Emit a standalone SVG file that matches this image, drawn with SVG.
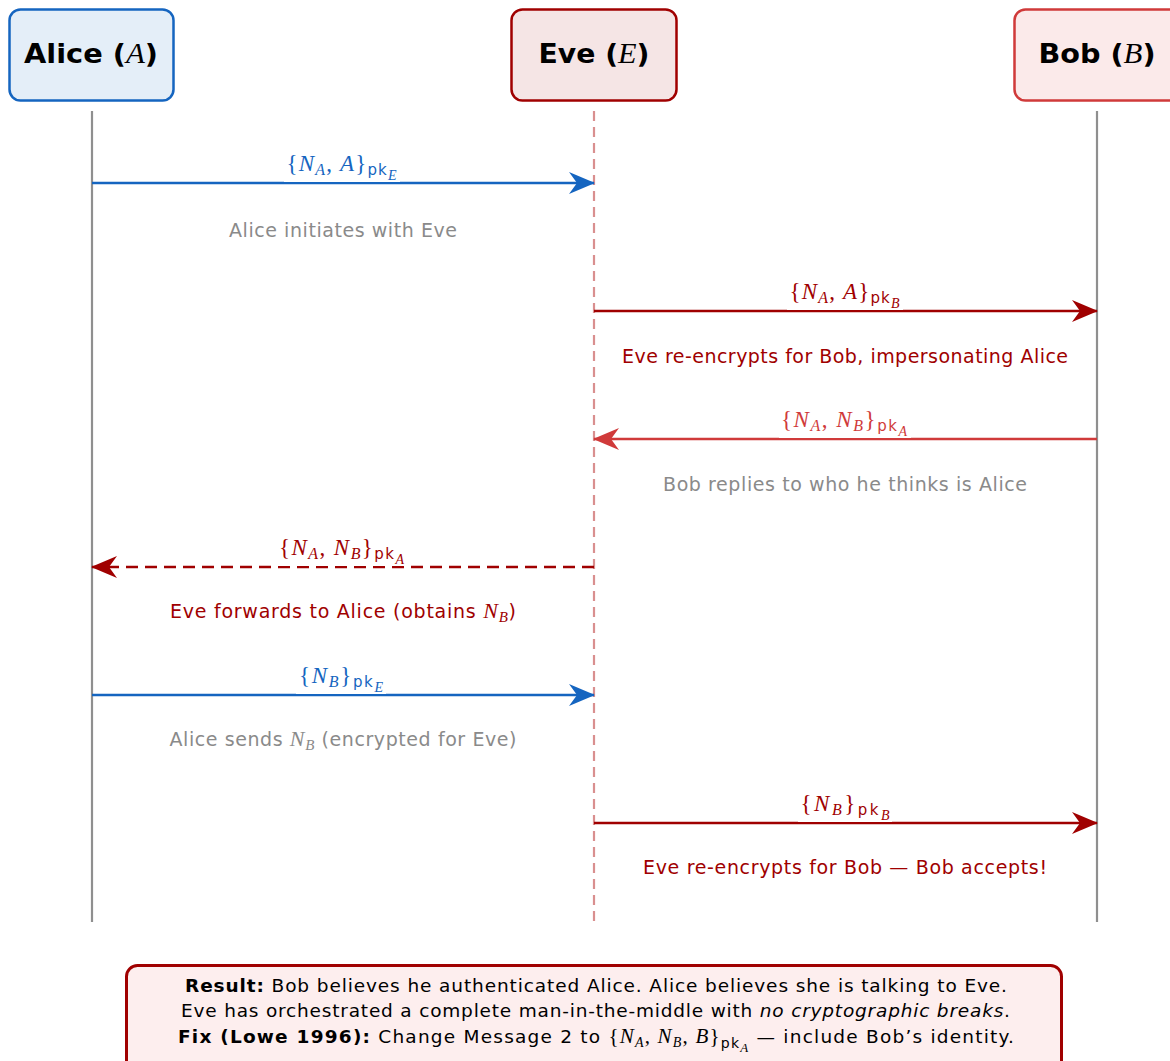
<svg xmlns="http://www.w3.org/2000/svg" width="1170" height="1061" viewBox="0 0 1170 1061">
  <style>
    .hdr { font-family: "DejaVu Sans", "Liberation Sans", sans-serif; font-weight: bold; font-size: 27px; fill: #000; text-anchor: middle; }
    .m { font-family: "Liberation Serif", "Times New Roman", serif; font-style: italic; font-weight: normal; }
    .rm { font-family: "Liberation Serif", "Times New Roman", serif; font-style: normal; font-weight: normal; }
    .sf { font-family: "DejaVu Sans", "Liberation Sans", sans-serif; font-style: normal; }
    .lbl { font-family: "Liberation Serif", "Times New Roman", serif; font-size: 23px; text-anchor: middle; }
    .note { font-family: "DejaVu Sans", "Liberation Sans", sans-serif; font-size: 19px; text-anchor: middle; }
    .gray { fill: #8a8a8a; }
    .dred { fill: #a00000; }
    .blue { fill: #1565c0; }
    .red { fill: #d03a3a; }
    .life { stroke: #8f8f8f; stroke-width: 2.2; fill: none; }
    .msg { stroke-width: 2.5; fill: none; }
    .bg { fill: #ffffff; }
    .box { font-family: "DejaVu Sans", "Liberation Sans", sans-serif; font-size: 18.5px; fill: #000; text-anchor: middle; }
  </style>
  <defs>
    <marker id="ah-blue" viewBox="0 0 26 22" refX="25" refY="11" markerWidth="26" markerHeight="22" markerUnits="userSpaceOnUse" orient="auto">
      <path d="M0,0 L26,11 L0,22 L8,11 Z" fill="#1565c0"/>
    </marker>
    <marker id="ah-dred" viewBox="0 0 26 22" refX="25" refY="11" markerWidth="26" markerHeight="22" markerUnits="userSpaceOnUse" orient="auto">
      <path d="M0,0 L26,11 L0,22 L8,11 Z" fill="#a00000"/>
    </marker>
    <marker id="ah-red" viewBox="0 0 26 22" refX="25" refY="11" markerWidth="26" markerHeight="22" markerUnits="userSpaceOnUse" orient="auto">
      <path d="M0,0 L26,11 L0,22 L8,11 Z" fill="#d03a3a"/>
    </marker>
  </defs>

  <rect width="1170" height="1061" fill="#ffffff"/>

  <!-- participants -->
  <g id="alice">
    <rect x="9.5" y="9.5" width="164" height="91" rx="11" fill="#e4eef8" stroke="#1565c0" stroke-width="2.5"/>
    <text class="hdr" x="91" y="63" textLength="134" lengthAdjust="spacingAndGlyphs">Alice (<tspan class="m" font-size="29">A</tspan>)</text>
    <line class="life" x1="92" y1="111" x2="92" y2="922"/>
  </g>
  <g id="eve">
    <rect x="511.5" y="9.5" width="165" height="91" rx="11" fill="#f5e5e5" stroke="#a00000" stroke-width="2.5"/>
    <text class="hdr" x="594" y="63" textLength="111" lengthAdjust="spacingAndGlyphs">Eve (<tspan class="m" font-size="29">E</tspan>)</text>
    <line x1="594" y1="111" x2="594" y2="922" stroke="#d98f8f" stroke-width="2.2" stroke-dasharray="10 6"/>
  </g>
  <g id="bob">
    <rect x="1014.5" y="9.5" width="166" height="91" rx="11" fill="#fbeaea" stroke="#d03a3a" stroke-width="2.5"/>
    <text class="hdr" x="1097" y="63" textLength="117" lengthAdjust="spacingAndGlyphs">Bob (<tspan class="m" font-size="29">B</tspan>)</text>
    <line class="life" x1="1097" y1="111" x2="1097" y2="922"/>
  </g>

  <!-- messages -->
  <g id="connectors">
    <!-- 1: Alice to Eve -->
    <line class="msg" x1="92" y1="183" x2="594" y2="183" stroke="#1565c0" marker-end="url(#ah-blue)"/>
    <rect class="bg" x="284" y="150" width="116" height="32"/>
    <text class="lbl blue" x="341.5" y="171" textLength="110"><tspan class="rm">{</tspan><tspan class="m">N</tspan><tspan class="m" font-size="16" dy="4">A</tspan><tspan class="rm" dy="-4">, </tspan><tspan class="m">A</tspan><tspan class="rm">}</tspan><tspan class="sf" font-size="15" dy="4">pk</tspan><tspan class="m" font-size="14" dy="5">E</tspan></text>
    <text class="note gray" x="343" y="237" textLength="228">Alice initiates with Eve</text>

    <!-- 2: Eve to Bob -->
    <line class="msg" x1="594" y1="311" x2="1097" y2="311" stroke="#a00000" marker-end="url(#ah-dred)"/>
    <rect class="bg" x="787" y="278" width="116" height="32"/>
    <text class="lbl dred" x="844.5" y="299" textLength="110"><tspan class="rm">{</tspan><tspan class="m">N</tspan><tspan class="m" font-size="16" dy="4">A</tspan><tspan class="rm" dy="-4">, </tspan><tspan class="m">A</tspan><tspan class="rm">}</tspan><tspan class="sf" font-size="15" dy="4">pk</tspan><tspan class="m" font-size="14" dy="5">B</tspan></text>
    <text class="note dred" x="845" y="363" textLength="446">Eve re-encrypts for Bob, impersonating Alice</text>

    <!-- 3: Bob to Eve -->
    <line class="msg" x1="1097" y1="439" x2="594" y2="439" stroke="#d03a3a" marker-end="url(#ah-red)"/>
    <rect class="bg" x="779" y="406" width="132" height="32"/>
    <text class="lbl red" x="844" y="427" textLength="126"><tspan class="rm">{</tspan><tspan class="m">N</tspan><tspan class="m" font-size="16" dy="4">A</tspan><tspan class="rm" dy="-4">, </tspan><tspan class="m">N</tspan><tspan class="m" font-size="16" dy="4">B</tspan><tspan class="rm" dy="-4">}</tspan><tspan class="sf" font-size="15" dy="4">pk</tspan><tspan class="m" font-size="14" dy="5">A</tspan></text>
    <text class="note gray" x="845" y="491" textLength="364">Bob replies to who he thinks is Alice</text>

    <!-- 4: Eve to Alice (forwarded) -->
    <line class="msg" x1="594" y1="567" x2="92" y2="567" stroke="#a00000" stroke-dasharray="12 7" marker-end="url(#ah-dred)"/>
    <rect class="bg" x="276" y="534" width="132" height="32"/>
    <text class="lbl dred" x="341.5" y="555" textLength="125"><tspan class="rm">{</tspan><tspan class="m">N</tspan><tspan class="m" font-size="16" dy="4">A</tspan><tspan class="rm" dy="-4">, </tspan><tspan class="m">N</tspan><tspan class="m" font-size="16" dy="4">B</tspan><tspan class="rm" dy="-4">}</tspan><tspan class="sf" font-size="15" dy="4">pk</tspan><tspan class="m" font-size="14" dy="5">A</tspan></text>
    <text class="note dred" x="343" y="618" textLength="346">Eve forwards to Alice (obtains <tspan class="m" font-size="22">N</tspan><tspan class="m" font-size="15" dy="4">B</tspan><tspan dy="-4">)</tspan></text>

    <!-- 5: Alice to Eve -->
    <line class="msg" x1="92" y1="695" x2="594" y2="695" stroke="#1565c0" marker-end="url(#ah-blue)"/>
    <rect class="bg" x="296" y="662" width="90" height="32"/>
    <text class="lbl blue" x="341" y="683" textLength="84"><tspan class="rm">{</tspan><tspan class="m">N</tspan><tspan class="m" font-size="16" dy="4">B</tspan><tspan class="rm" dy="-4">}</tspan><tspan class="sf" font-size="15" dy="4">pk</tspan><tspan class="m" font-size="14" dy="5">E</tspan></text>
    <text class="note gray" x="343" y="746" textLength="347">Alice sends <tspan class="m" font-size="22">N</tspan><tspan class="m" font-size="15" dy="4">B</tspan><tspan dy="-4"> (encrypted for Eve)</tspan></text>

    <!-- 6: Eve to Bob -->
    <line class="msg" x1="594" y1="823" x2="1097" y2="823" stroke="#a00000" marker-end="url(#ah-dred)"/>
    <rect class="bg" x="798" y="790" width="94" height="32"/>
    <text class="lbl dred" x="845" y="811" textLength="89"><tspan class="rm">{</tspan><tspan class="m">N</tspan><tspan class="m" font-size="16" dy="4">B</tspan><tspan class="rm" dy="-4">}</tspan><tspan class="sf" font-size="15" dy="4">pk</tspan><tspan class="m" font-size="14" dy="5">B</tspan></text>
    <text class="note dred" x="845" y="874" textLength="404">Eve re-encrypts for Bob — Bob accepts!</text>
  </g>

  <!-- summary -->
  <g id="summary">
    <rect x="126.5" y="965.5" width="935" height="110" rx="11" fill="#fdeeee" stroke="#a00000" stroke-width="3"/>
    <text class="box" x="596" y="992" textLength="822"><tspan font-weight="bold">Result:</tspan> Bob believes he authenticated Alice.  Alice believes she is talking to Eve.</text>
    <text class="box" x="595.5" y="1017" textLength="829">Eve has orchestrated a complete man-in-the-middle with <tspan font-style="italic">no cryptographic breaks</tspan>.</text>
    <text class="box" x="596" y="1043" textLength="836"><tspan font-weight="bold">Fix (Lowe 1996):</tspan> Change Message 2 to <tspan class="rm" font-size="21">{</tspan><tspan class="m" font-size="21">N</tspan><tspan class="m" font-size="14" dy="4">A</tspan><tspan class="rm" font-size="21" dy="-4">, </tspan><tspan class="m" font-size="21">N</tspan><tspan class="m" font-size="14" dy="4">B</tspan><tspan class="rm" font-size="21" dy="-4">, </tspan><tspan class="m" font-size="21">B</tspan><tspan class="rm" font-size="21">}</tspan><tspan font-size="14" dy="5">pk</tspan><tspan class="m" font-size="13" dy="4">A</tspan><tspan dy="-9"> — include Bob’s identity.</tspan></text>
  </g>
</svg>
